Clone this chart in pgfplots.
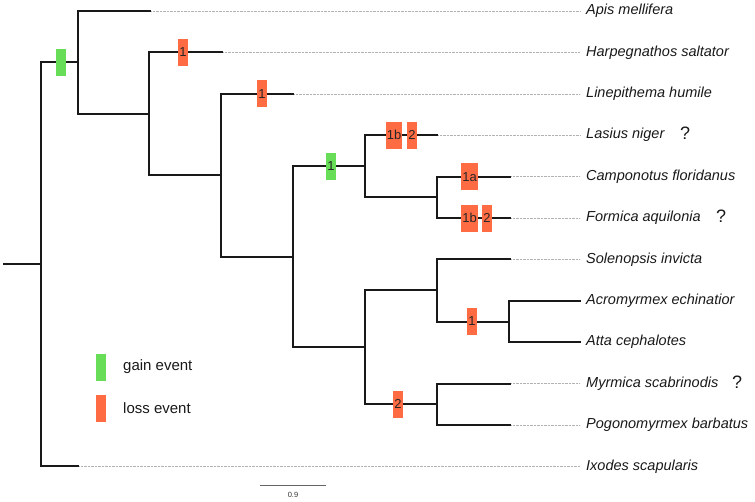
\documentclass[border=0pt]{standalone}
\usepackage{fontspec}
\setmainfont{Liberation Sans}
\usepackage{pgfplots}
\usepackage{pgfplotstable}
\pgfplotsset{compat=1.18}
\definecolor{gainc}{RGB}{104,222,88}
\definecolor{lossc}{RGB}{255,108,68}
\definecolor{treec}{RGB}{25,25,25}

\pgfplotstableread{
x y
150 11
580 11
nan nan
222 52.4
580 52.4
nan nan
293 93.8
580 93.8
nan nan
437 135.2
580 135.2
nan nan
510 176.6
580 176.6
nan nan
510 218
580 218
nan nan
510 259.4
580 259.4
nan nan
510 383.6
580 383.6
nan nan
510 425
580 425
nan nan
78 466.4
580 466.4
}\leaders

\pgfplotstableread{
x y lab
331 166.25 1
}\gainboxes

\pgfplotstableread{
x y lab
183 52.4 1
262 93.8 1
394 135.2 1b
412 135.2 2
469.5 176.6 1a
469.5 218 1b
487 218 2
472 321.5 1
398 404.3 2
}\lossboxes

\pgfplotstableread{
x y lab
586 11 {Apis mellifera}
586 52.4 {Harpegnathos saltator}
586 93.8 {Linepithema humile}
586 135.2 {Lasius niger}
586 176.6 {Camponotus floridanus}
586 218 {Formica aquilonia}
586 259.4 {Solenopsis invicta}
586 300.8 {Acromyrmex echinatior}
586 342.2 {Atta cephalotes}
586 383.6 {Myrmica scabrinodis}
586 425 {Pogonomyrmex barbatus}
586 466.4 {Ixodes scapularis}
}\species

\pgfplotstableread{
x y
685 133.5
721 216.3
737 381.9
}\qmarks

\begin{document}
\begin{tikzpicture}
\begin{axis}[
  width=755pt, height=501pt, scale only axis,
  xmin=0, xmax=755, ymin=0, ymax=501, y dir=reverse,
  hide axis, clip=false,
  unbounded coords=jump,
  tree/.style={treec, line width=2pt, mark=none, line cap=rect},
]
% dotted leaders
\addplot[color=gray!60, line width=0.6pt, dash pattern=on 0.7pt off 0.7pt, mark=none] table[x=x,y=y] {\leaders};

% tree
\addplot[tree] coordinates {(4,264.4) (41,264.4)};
\addplot[tree] coordinates {(78,62.4) (41,62.4) (41,466.4) (78,466.4)};
\addplot[tree] coordinates {(150,11) (78,11) (78,113.85) (149,113.85)};
\addplot[tree] coordinates {(222,52.4) (149,52.4) (149,175.3) (221,175.3)};
\addplot[tree] coordinates {(293,93.8) (221,93.8) (221,256.8) (293,256.8)};
\addplot[tree] coordinates {(365,166.25) (293,166.25) (293,347.4) (365,347.4)};
\addplot[tree] coordinates {(437,135.2) (365,135.2) (365,197.3) (437,197.3)};
\addplot[tree] coordinates {(510,176.6) (437,176.6) (437,218) (510,218)};
\addplot[tree] coordinates {(437,290.45) (365,290.45) (365,404.3) (437,404.3)};
\addplot[tree] coordinates {(510,259.4) (437,259.4) (437,321.5) (509,321.5)};
\addplot[tree] coordinates {(580,300.8) (509,300.8) (509,342.2) (580,342.2)};
\addplot[tree] coordinates {(510,383.6) (437,383.6) (437,425) (510,425)};

% unlabeled boxes (root gain + legend)
\addplot[draw=none, mark=none, nodes near coords={\phantom{1}},
  every node near coord/.style={anchor=center, fill=gainc, minimum width=10pt, minimum height=27pt, inner sep=0pt}]
  coordinates {(61,62.4) (100.5,367)};
\addplot[draw=none, mark=none, nodes near coords={\phantom{1}},
  every node near coord/.style={anchor=center, fill=lossc, minimum width=10pt, minimum height=27pt, inner sep=0pt}]
  coordinates {(100.5,408)};

% labeled boxes
\addplot[draw=none, mark=none, nodes near coords, point meta=explicit symbolic,
  every node near coord/.style={anchor=center, fill=gainc, text=black!85, font=\fontsize{13}{15}\selectfont, minimum width=10pt, minimum height=27pt, inner xsep=1.2pt, inner ysep=0pt}]
  table[x=x,y=y,meta=lab] {\gainboxes};
\addplot[draw=none, mark=none, nodes near coords, point meta=explicit symbolic,
  every node near coord/.style={anchor=center, fill=lossc, text=black!85, font=\fontsize{13}{15}\selectfont, minimum width=10pt, minimum height=27pt, inner xsep=1.2pt, inner ysep=0pt}]
  table[x=x,y=y,meta=lab] {\lossboxes};

% species labels
\addplot[draw=none, mark=none, nodes near coords, point meta=explicit symbolic,
  every node near coord/.style={anchor=west, inner sep=0pt, text=black!90, font=\fontsize{14.5}{17}\selectfont\itshape}]
  table[x=x,y=y,meta=lab] {\species};

% question marks
\addplot[draw=none, mark=none, nodes near coords={?},
  every node near coord/.style={anchor=center, inner sep=0pt, text=black!90, font=\fontsize{18}{20}\selectfont}]
  table[x=x,y=y] {\qmarks};

% legend text
\addplot[draw=none, mark=none, nodes near coords, point meta=explicit symbolic,
  every node near coord/.style={anchor=west, inner sep=0pt, text=black!90, font=\fontsize{15}{18}\selectfont}]
  table[x=x,y=y,meta=lab] {
x y lab
123 367 {gain event}
123 408 {loss event}
};

% scale bar
\addplot[color=gray!80!black, line width=0.9pt, mark=none] coordinates {(260,485) (326,485)};
\addplot[draw=none, mark=none, nodes near coords={0.9},
  every node near coord/.style={anchor=center, inner sep=0pt, text=black!80, font=\fontsize{7.5}{9}\selectfont}]
  coordinates {(293,494.5)};
\end{axis}
\pgfresetboundingbox
\path (current axis.south west) rectangle (current axis.north east);
\end{tikzpicture}
\end{document}
